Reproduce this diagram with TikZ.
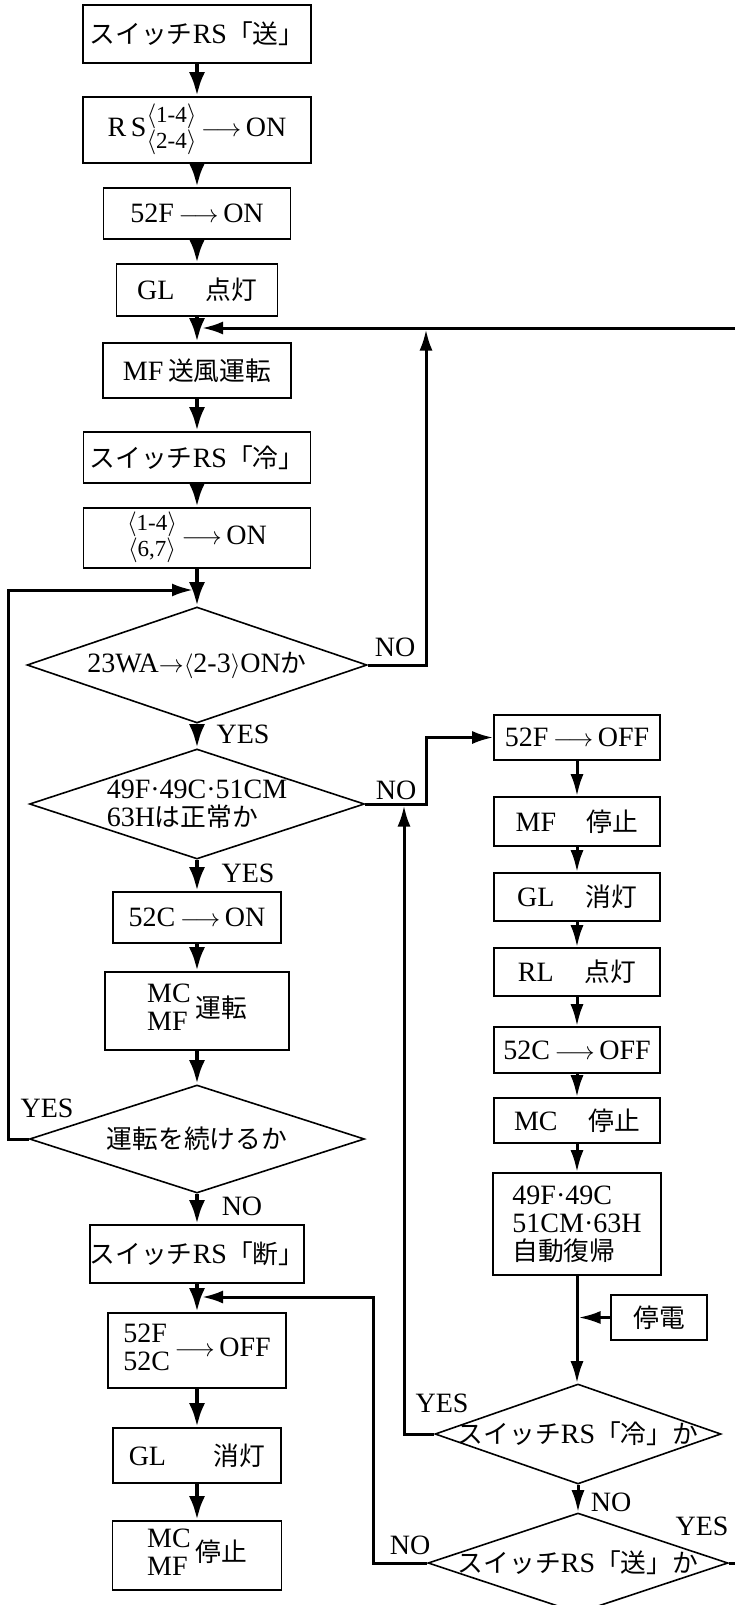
\documentclass[tikz,border=0pt]{standalone}
\usepackage{fontspec}
\setmainfont{Liberation Serif}
\newfontfamily\jpfont{Noto Sans CJK JP}[Scale=0.92]
\usetikzlibrary{shapes.geometric, arrows.meta, calc}
\newcommand{\ja}[1]{{\jpfont #1}}
\newcommand{\toarr}{\,$\longrightarrow$\,}
\newcommand{\ang}[1]{$\langle$#1$\rangle$}
\newcommand{\stk}[2]{{\fontsize{23}{25}\selectfont\begin{tabular}{@{}c@{}}#1\\#2\end{tabular}}}
\newcommand{\two}[2]{\begin{tabular}{@{}l@{}}#1\\#2\end{tabular}}

\begin{document}
\begin{tikzpicture}[x=1pt, y=-1pt, >={Latex[length=24pt, width=16pt]},
    font=\fontsize{28}{28}\selectfont,
    box/.style={draw, line width=1.6pt, inner sep=0pt},
    dia/.style={draw, diamond, aspect=3, line width=1.6pt, inner xsep=-40pt, inner ysep=-12pt},
    flow/.style={->, line width=4.5pt},
    rflow/.style={>={Latex[length=22pt, width=13pt]}, ->, line width=3pt},
    loopl/.style={>={Latex[length=21pt, width=13pt]}, ->, line width=3pt},
    lbl/.style={inner sep=0pt}]
    \useasboundingbox (0,0) rectangle (734,1605);

    % left column
    \node[box, minimum width=228pt, minimum height=58pt] (b1) at (197,34) {\ja{スイッチ}RS\ja{「送」}};
    \node[box, minimum width=228pt, minimum height=66pt] (b2) at (197,130) {R\,S\stk{\ang{1-4}}{\ang{2-4}}\toarr ON};
    \node[box, minimum width=187pt, minimum height=51pt] (b3) at (197,213.5) {52F\toarr ON};
    \node[box, minimum width=161pt, minimum height=52pt] (b4) at (197,290) {GL\hspace{1.1em}\ja{点灯}};
    \node[box, minimum width=188pt, minimum height=55pt] (b5) at (197,370.5) {MF\,\ja{送風運転}};
    \node[box, minimum width=227pt, minimum height=51pt] (b6) at (197,457.5) {\ja{スイッチ}RS\ja{「冷」}};
    \node[box, minimum width=227pt, minimum height=60pt] (b7) at (197,538) {\stk{\ang{1-4}}{\ang{6,7}}\toarr ON};
    \node[dia, minimum width=340pt, minimum height=116pt] (d1) at (197,665) {23WA$\rightarrow$\ang{2-3}ON\ja{か}};
    \node[dia, minimum width=335pt, minimum height=110pt, align=left] (d2) at (197,804) {49F·49C·51CM\\63H\ja{は正常か}};
    \node[box, minimum width=168pt, minimum height=51pt] (b8) at (197,917.5) {52C\toarr ON};
    \node[box, minimum width=184pt, minimum height=78pt] (b9) at (197,1011) {\two{MC}{MF}\,\ja{運転}};
    \node[dia, minimum width=335pt, minimum height=108pt] (d3) at (197,1139) {\ja{運転を続けるか}};
    \node[box, minimum width=213pt, minimum height=58pt] (b10) at (197,1254) {\ja{スイッチ}RS\ja{「断」}};
    \node[box, minimum width=178pt, minimum height=75pt] (b11) at (197,1350.5) {\two{52F}{52C}\toarr OFF};
    \node[box, minimum width=168pt, minimum height=55pt] (b12) at (197,1455.5) {GL\hspace{1.7em}\ja{消灯}};
    \node[box, minimum width=169pt, minimum height=69pt] (b13) at (197,1555.5) {\two{MC}{MF}\,\ja{停止}};

    % right column
    \node[box, minimum width=166pt, minimum height=45pt] (r1) at (577,737.5) {52F\toarr OFF};
    \node[box, minimum width=166pt, minimum height=49pt] (r2) at (577,821.5) {MF\hspace{1.1em}\ja{停止}};
    \node[box, minimum width=166pt, minimum height=48pt] (r3) at (577,897) {GL\hspace{1.1em}\ja{消灯}};
    \node[box, minimum width=166pt, minimum height=48pt] (r4) at (577,972) {RL\hspace{1.1em}\ja{点灯}};
    \node[box, minimum width=166pt, minimum height=46pt] (r5) at (577,1050) {52C\toarr OFF};
    \node[box, minimum width=166pt, minimum height=45pt] (r6) at (577,1120.5) {MC\hspace{1.1em}\ja{停止}};
    \node[box, minimum width=168pt, minimum height=102pt, align=left] (r7) at (577,1224) {49F·49C\\51CM·63H\\\ja{自動復帰}};
    \node[box, minimum width=96pt, minimum height=45pt] (pw) at (659,1317.5) {\ja{停電}};
    \node[dia, minimum width=286pt, minimum height=100pt] (d4) at (578,1434) {\ja{スイッチ}RS\ja{「冷」か}};
    \node[dia, minimum width=300pt, minimum height=100pt] (d5) at (578,1563) {\ja{スイッチ}RS\ja{「送」か}};

    % labels
    \node[lbl] (no1) at (395,647) {NO};
    \node[lbl] (yes1) at (243,734) {YES};
    \node[lbl] (no2) at (396,790) {NO};
    \node[lbl] (yes2) at (248,873) {YES};
    \node[lbl] (yes3) at (47,1108) {YES};
    \node[lbl] (no3) at (242,1206) {NO};
    \node[lbl] (yes4) at (442,1403) {YES};
    \node[lbl] (no4) at (611,1502) {NO};
    \node[lbl] (yes5) at (702,1526) {YES};
    \node[lbl] (no5) at (410,1545) {NO};

    \coordinate (jA) at (197,328);
    \coordinate (jB) at (197,590);
    \coordinate (jC) at (197,1297);
    \coordinate (kA) at (426,328);
    \coordinate (kB) at (426,737.5);
    \coordinate (kC) at (404,804);
    \coordinate (kD) at (373,1297);
    \coordinate (kL) at (8,590);
    \coordinate (eTop) at (737,328);
    \coordinate (eBot) at (737,1563);

    \foreach \a/\b in {b1/b2, b2/b3, b3/b4, b4/b5, b5/b6, b6/b7, b7/d1, d1/d2, d2/b8, b8/b9, b9/d3, d3/b10, b10/b11, b11/b12, b12/b13}
        \draw[flow] (\a.south) -- (\b.north);
    \foreach \a/\b in {r1/r2, r2/r3, r3/r4, r4/r5, r5/r6, r6/r7, r7/d4, d4/d5}
        \draw[rflow] (\a.south) -- (\a.south |- \b.north);

    \draw[loopl] (d5.east) -- (eBot) -- (eTop) -- ([xshift=5pt]jA);
    \draw[loopl, shorten >=1.5pt] (d1.east) -| (kA);
    \draw[loopl] (d3.west) -| (kL) -- ([xshift=-4pt]jB);
    \draw[loopl] (d2.east) -| (kB) -- (r1.west);
    \draw[loopl, shorten >=1.5pt] (d4.west) -| (kC);
    \draw[loopl] (d5.west) -| (kD) -- ([xshift=5pt]jC);
    \draw[rflow, shorten >=1.5pt] (pw.west) -- (pw.west -| r7.south);
\end{tikzpicture}
\end{document}
